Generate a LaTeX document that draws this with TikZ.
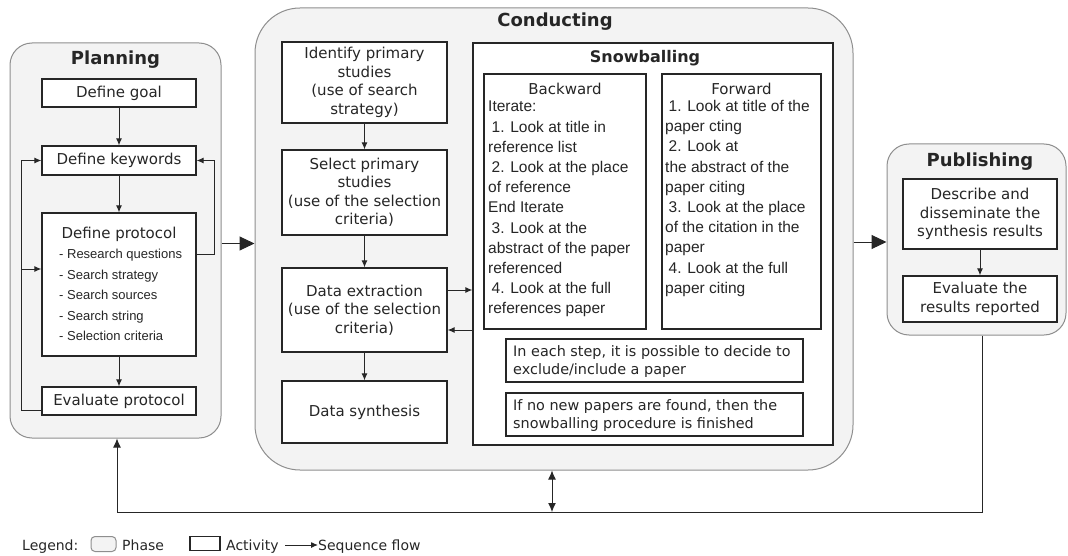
\documentclass[tikz,border=0pt]{standalone}
\usepackage{fontspec}
\setmainfont{DejaVu Sans}
\newfontfamily\listfont{Liberation Sans}
\usetikzlibrary{arrows.meta}
\definecolor{phasefill}{HTML}{F3F3F3}
\definecolor{phaseline}{HTML}{8E8E8E}
\definecolor{ink}{HTML}{262626}

\tikzset{
  phase/.style={draw=phaseline, fill=phasefill, line width=1pt, inner sep=0pt},
  act/.style={draw=ink, fill=white, line width=1.3pt, inner sep=0pt, text=ink,
    align=center, font=\fontsize{15}{18.5}\selectfont},
  ttl/.style={font=\bfseries\fontsize{18}{20}\selectfont, text=ink, inner sep=0pt},
  subttl/.style={font=\fontsize{15}{18}\selectfont, text=ink, inner sep=0pt},
  lst/.style={font=\listfont\fontsize{15.5}{20.2}\selectfont, text=ink, align=left,
    inner sep=0pt, anchor=north west},
  note/.style={font=\fontsize{14.4}{18}\selectfont, text=ink, align=left,
    inner sep=0pt, anchor=west},
  legtext/.style={font=\fontsize{14}{16}\selectfont, text=ink, inner sep=0pt, anchor=base west},
  flow/.style={draw=ink, line width=1pt, -{Latex[length=7pt,width=6pt]}},
  bigflow/.style={draw=ink, line width=1pt, -{Triangle[length=15pt,width=14pt]}},
  longflow/.style={draw=ink, line width=1pt, -{Latex[length=9pt,width=8pt]}},
}

\begin{document}
\begin{tikzpicture}[x=1pt,y=-1pt]
\useasboundingbox (0,0) rectangle (1068,556);

% ---------- phases ----------
\node[phase, rounded corners=22pt, minimum width=211pt, minimum height=395pt] (plan) at (115.5,240.5) {};
\node[phase, rounded corners=45pt, minimum width=598pt, minimum height=462pt] (cond) at (554,239) {};
\node[phase, rounded corners=22pt, minimum width=179pt, minimum height=191pt] (pub) at (976.5,239.5) {};

\node[ttl] (planT) at (115.5,60) {Planning};
\node[ttl] (condT) at (555,22) {Conducting};
\node[ttl] (pubT) at (980,162) {Publishing};

% ---------- planning activities ----------
\node[act, minimum width=154pt, minimum height=28pt] (goal) at (119,93) {Define goal};
\node[act, minimum width=154pt, minimum height=29pt] (keyw) at (119,160.5) {Define keywords};
\node[act, minimum width=154pt, minimum height=143pt] (proto) at (119,284.5) {};
\node[act, minimum width=154pt, minimum height=28pt] (evalp) at (119,401) {Evaluate protocol};
\node[subttl] (protoT) at (119,234) {Define protocol};
\node[lst, font=\listfont\fontsize{13}{20.5}\selectfont] (protoL) at (59,249)
  {- Research questions\\- Search strategy\\- Search sources\\- Search string\\- Selection criteria};

\draw[flow] (goal) -- (keyw);
\draw[flow] (keyw) -- (proto);
\draw[flow] (proto) -- (evalp);

\coordinate (lx) at (21,0);
\coordinate (lb) at (21,269);
\coordinate (rx) at (214,0);
\draw[flow] ([yshift=-9pt]evalp.west) -| (lx |- keyw.west) -- (keyw.west);
\draw[flow] (lb) -- (lb -| proto.west);
\draw[flow] ([yshift=30.5pt]proto.east) -| (rx |- keyw.east) -- (keyw.east);

% ---------- conducting activities ----------
\node[act, minimum width=165pt, minimum height=81pt] (ident) at (364.5,82.5)
  {Identify primary\\studies\\(use of search\\strategy)};
\node[act, minimum width=165pt, minimum height=85pt] (select) at (364.5,192.5)
  {Select primary\\studies\\(use of the selection\\criteria)};
\node[act, minimum width=165pt, minimum height=84pt] (extr) at (364.5,310)
  {Data extraction\\(use of the selection\\criteria)};
\node[act, minimum width=165pt, minimum height=62pt] (synth) at (364.5,412) {Data synthesis};

\draw[flow] (ident) -- (select);
\draw[flow] (select) -- (extr);
\draw[flow] (extr) -- (synth);

% ---------- snowballing ----------
\node[act, minimum width=360pt, minimum height=402pt] (snow) at (653,244) {};
\node[ttl, font=\bfseries\fontsize{16}{18}\selectfont] (snowT) at (645,58) {Snowballing};

\node[act, minimum width=162pt, minimum height=255pt] (back) at (565,201.5) {};
\node[act, minimum width=159pt, minimum height=255pt] (fwd) at (741.5,201.5) {};
\node[subttl] (backT) at (565,89) {Backward};
\node[subttl] (fwdT) at (741.5,89) {Forward};

\node[lst] (backL) at (488,101)
  {Iterate:\\\hspace*{3.5pt}1. Look at title in\\reference list\\\hspace*{3.5pt}2. Look at the place\\of reference\\End Iterate\\\hspace*{3.5pt}3. Look at the\\abstract of the paper\\referenced\\\hspace*{3.5pt}4. Look at the full\\references paper};
\node[lst] (fwdL) at (665,100)
  {\hspace*{3.5pt}1. Look at title of the\\paper cting\\\hspace*{3.5pt}2. Look at\\the abstract of the\\paper citing\\\hspace*{3.5pt}3. Look at the place\\of the citation in the\\paper\\\hspace*{3.5pt}4. Look at the full\\paper citing};

\node[act, minimum width=297pt, minimum height=43pt] (step) at (654.5,360.5) {};
\node[act, minimum width=297pt, minimum height=43pt] (stop) at (654.5,414.5) {};
\node[note] (stepT) at (513,361.5) {In each step, it is possible to decide to\\exclude/include a paper};
\node[note] (stopT) at (513,415.5) {If no new papers are found, then the\\snowballing procedure is finished};

\draw[flow] ([yshift=20pt]extr.east) -- ([yshift=20pt]extr.east -| snow.west);
\draw[flow] ([yshift=-20pt]extr.east -| snow.west) -- ([yshift=-20pt]extr.east);

% ---------- publishing activities ----------
\node[act, minimum width=154pt, minimum height=70pt] (desc) at (980,214)
  {Describe and\\disseminate the\\synthesis results};
\node[act, minimum width=154pt, minimum height=46pt] (evalr) at (980,299)
  {Evaluate the\\results reported};
\draw[flow] (desc) -- (evalr);

% ---------- phase transitions ----------
\draw[bigflow] ([yshift=-3pt]plan.east) -- ([yshift=-3pt]plan.east -| cond.west);
\draw[bigflow] ([yshift=-3pt]cond.east) -- ([yshift=-3pt]cond.east -| pub.west);

\coordinate (br) at (982,512);
\coordinate (bl) at (117,512);
\coordinate (bm) at (552,512);
\draw[longflow] (br |- pub.south) -- (br) -- (bl) -- (bl |- plan.south);
\draw[draw=ink, line width=1pt, {Latex[length=9pt,width=8pt]}-{Latex[length=9pt,width=8pt]}]
  (bm |- cond.south) -- (bm);

% ---------- legend ----------
\node[legtext] (legL) at (22,550) {Legend:};
\node[phase, rounded corners=4pt, minimum width=25pt, minimum height=15pt] (legP) at (103.5,544) {};
\node[legtext] (legPT) at (122,550) {Phase};
\node[act, minimum width=30pt, minimum height=14pt] (legA) at (205,543.5) {};
\node[legtext] (legAT) at (226,550) {Activity};
\coordinate (legF0) at (285,545);
\node[legtext] (legFT) at (318,550) {Sequence flow};
\draw[flow] (legF0) -- (legFT.west |- legF0);
\end{tikzpicture}
\end{document}
